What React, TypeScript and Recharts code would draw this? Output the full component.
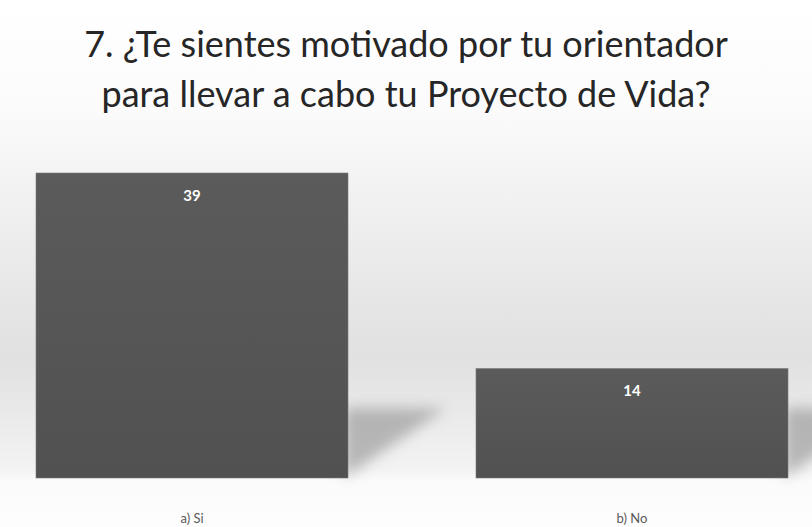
import { Bar, BarChart, LabelList, XAxis, YAxis } from "recharts"

const categories = ["a) Si", "b) No"]
const answers = [39, 14]
const title = ["7. ¿Te sientes motivado por tu orientador", "para llevar a cabo tu Proyecto de Vida?"]

const data = categories.map((name, i) => ({ name, value: answers[i] }))

function ShadowBar(props: any) {
  const { x, y, width, height } = props
  const bottom = y + height
  const right = x + width
  return (
    <g>
      <polygon
        points={`${right - 4},${bottom} ${right + 98},${bottom - 70} ${right - 4},${bottom - 70}`}
        fill="#909090"
        opacity={0.6}
        filter="url(#shadowBlur)"
      />
      <rect x={x} y={y} width={width} height={height} fill="url(#barFill)" stroke="#7a7a7a" strokeWidth={0.6} />
    </g>
  )
}

function CategoryTick(props: any) {
  const { x, y, payload } = props
  return (
    <text x={x} y={y + 37} textAnchor="middle" fontSize={13} fill="#595959" fontFamily="Lato, sans-serif">
      {payload.value}
    </text>
  )
}

export default function App() {
  return (
    <div
      style={{
        position: "fixed",
        left: 0,
        top: 0,
        width: 812,
        height: 527,
        overflow: "hidden",
        background:
          "linear-gradient(to bottom, #ffffff 0px, #fbfbfb 110px, #f1f1f1 200px, #e3e3e3 330px, #e1e1e1 360px, #e9e9e9 410px, #f3f3f3 470px, #fbfbfb 482px, #fdfdfd 527px)",
      }}
    >
      <div
        style={{
          position: "absolute",
          top: 18,
          left: 0,
          width: 812,
          textAlign: "center",
          fontFamily: "Lato, sans-serif",
          fontSize: 36,
          lineHeight: "50px",
          color: "#262626",
        }}
      >
        {title.map((line) => (
          <div key={line}>{line}</div>
        ))}
      </div>
      <div style={{ position: "absolute", left: -28, top: 0 }}>
        <BarChart width={880} height={527} data={data} margin={{ top: 173, right: 0, bottom: 0, left: 0 }} barSize={312}>
          <defs>
            <linearGradient id="barFill" x1="0" y1="0" x2="0" y2="1">
              <stop offset="0%" stopColor="#5b5b5b" />
              <stop offset="100%" stopColor="#515151" />
            </linearGradient>
            <filter id="shadowBlur" x="-50%" y="-50%" width="200%" height="200%">
              <feGaussianBlur stdDeviation="7" />
            </filter>
          </defs>
          <XAxis dataKey="name" axisLine={false} tickLine={false} height={49} tick={<CategoryTick />} interval={0} />
          <YAxis hide domain={[0, 39]} />
          <Bar dataKey="value" isAnimationActive={false} shape={<ShadowBar />}>
            <LabelList
              dataKey="value"
              position="insideTop"
              offset={17}
              fill="#ffffff"
              fontSize={15}
              fontWeight="bold"
              fontFamily="Lato, sans-serif"
            />
          </Bar>
        </BarChart>
      </div>
    </div>
  )
}
